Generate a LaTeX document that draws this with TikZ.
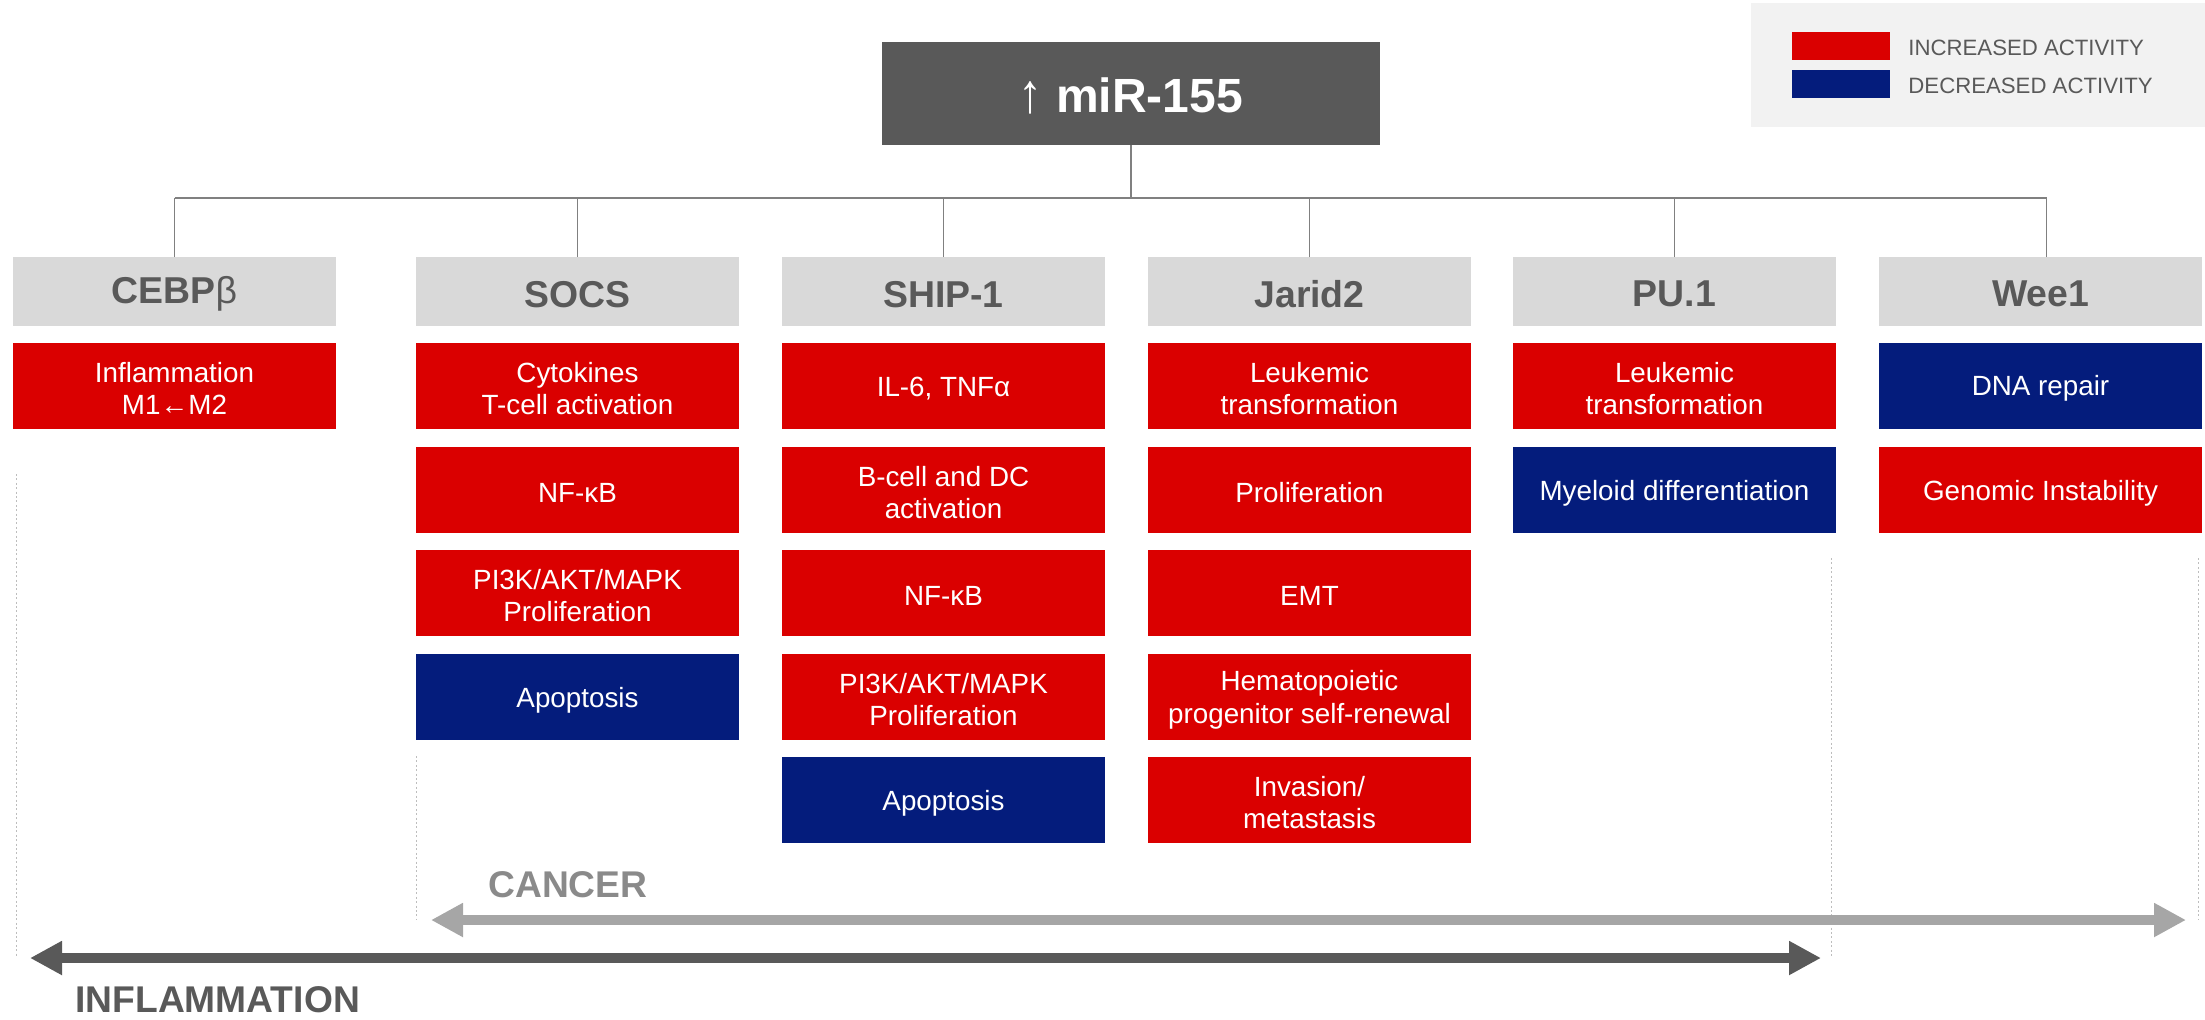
\documentclass[tikz,border=0pt]{standalone}
\usepackage{fontspec}
\setmainfont{Liberation Sans}
\usetikzlibrary{arrows.meta}

\definecolor{incr}{HTML}{DA0000}
\definecolor{decr}{HTML}{041C7C}
\definecolor{hdrgrey}{HTML}{D9D9D9}
\definecolor{darkgrey}{HTML}{595959}
\definecolor{legendbg}{HTML}{F2F2F2}
\definecolor{linkgrey}{HTML}{808080}
\definecolor{lightgrey}{HTML}{A6A6A6}
\definecolor{guidegrey}{HTML}{BDBDBD}
\definecolor{labelgrey}{HTML}{8A8A8A}

% a filled box and its caption, the caption set slightly below the box centre
\newcommand\fxnode[5]{%
  \node[#1] (#2) at (#3) {};
  \node[#4] (#2 text) at ([yshift=-1.4pt]#2.center) {#5};
}

\begin{document}
\begin{tikzpicture}[x=0.5pt,y=-0.5pt,
  effect/.style={minimum width=161.5pt, minimum height=43pt, inner sep=0pt,
    outer sep=0pt},
  up/.style={effect, fill=incr},
  down/.style={effect, fill=decr},
  efftext/.style={inner sep=0pt, text=white, align=center,
    font=\fontsize{13.9}{16.1}\selectfont},
  target/.style={minimum width=161.5pt, minimum height=34.5pt, inner sep=0pt,
    outer sep=0pt, fill=hdrgrey},
  targettext/.style={inner sep=0pt, text=darkgrey,
    font=\fontsize{18.7}{21}\selectfont\bfseries},
  mirbox/.style={fill=darkgrey, minimum width=249pt, minimum height=51.5pt,
    inner sep=0pt, outer sep=0pt},
  mirtext/.style={inner sep=0pt, text=white,
    font=\fontsize{24}{27}\selectfont\bfseries},
  link/.style={draw=linkgrey, line width=0.75pt},
  guide/.style={draw=guidegrey, line width=0.5pt, dash pattern=on 1pt off 1.2pt},
  span/.style={line width=5pt,
    {Triangle[length=16pt,width=16pt]}-{Triangle[length=16pt,width=16pt]}},
  swatch/.style={minimum width=49pt, minimum height=14pt, inner sep=0pt},
  legendtext/.style={anchor=west, text=darkgrey, inner sep=0pt,
    font=\fontsize{11.1}{13}\selectfont},
  spanlabel/.style={anchor=base west, inner sep=0pt,
    font=\fontsize{18.6}{21}\selectfont\bfseries}
]
\useasboundingbox (0,0) rectangle (2205,1019);

% legend
\fill[legendbg] (1751,3) rectangle (2205,127);
\node[swatch, fill=incr] (swup) at (1841,46) {};
\node[swatch, fill=decr] (swdown) at (1841,84) {};
\node[legendtext] (lgup) at (1908,47.5) {INCREASED ACTIVITY};
\node[legendtext] (lgdown) at (1908,85.5) {DECREASED ACTIVITY};

% microRNA
\fxnode{mirbox}{mir}{1131,93.5}{mirtext}{\scalebox{1}[1.15]{↑} miR-155}

% targets
\fxnode{target}{t1}{174.5,291.5}{targettext}{CEBP{\mdseries β}}
\fxnode{target}{t2}{577.5,291.5}{targettext}{SOCS}
\fxnode{target}{t3}{943.5,291.5}{targettext}{SHIP-1}
\fxnode{target}{t4}{1309.5,291.5}{targettext}{Jarid2}
\fxnode{target}{t5}{1674.5,291.5}{targettext}{PU.1}
\fxnode{target}{t6}{2040.5,291.5}{targettext}{Wee1}

% tree connectors
\coordinate (bus) at (1131,198);
\coordinate (t6 drop) at ([xshift=3pt]t6.north);
\draw[link] (mir.south) -- (mir.south |- bus);
\draw[link] (t1.north |- bus) -- (t6 drop |- bus);
\foreach \t in {t1,t2,t3,t4,t5}
  \draw[link] (\t.north) -- (\t.north |- bus);
\draw[link] (t6 drop) -- (t6 drop |- bus);

% CEBPbeta effects
\fxnode{up}{e11}{174.5,386}{efftext}{Inflammation\\M1←M2}

% SOCS effects
\fxnode{up}{e21}{577.5,386}{efftext}{Cytokines\\T-cell activation}
\fxnode{up}{e22}{577.5,490}{efftext}{NF-κB}
\fxnode{up}{e23}{577.5,593}{efftext}{PI3K/AKT/MAPK\\Proliferation}
\fxnode{down}{e24}{577.5,697}{efftext}{Apoptosis}

% SHIP-1 effects
\fxnode{up}{e31}{943.5,386}{efftext}{IL-6, TNFα}
\fxnode{up}{e32}{943.5,490}{efftext}{B-cell and DC\\activation}
\fxnode{up}{e33}{943.5,593}{efftext}{NF-κB}
\fxnode{up}{e34}{943.5,697}{efftext}{PI3K/AKT/MAPK\\Proliferation}
\fxnode{down}{e35}{943.5,800}{efftext}{Apoptosis}

% Jarid2 effects
\fxnode{up}{e41}{1309.5,386}{efftext}{Leukemic\\transformation}
\fxnode{up}{e42}{1309.5,490}{efftext}{Proliferation}
\fxnode{up}{e43}{1309.5,593}{efftext}{EMT}
\fxnode{up}{e44}{1309.5,697}{efftext}{Hematopoietic\\progenitor self-renewal}
\fxnode{up}{e45}{1309.5,800}{efftext}{Invasion/\\metastasis}

% PU.1 effects
\fxnode{up}{e51}{1674.5,386}{efftext}{Leukemic\\transformation}
\fxnode{down}{e52}{1674.5,490}{efftext}{Myeloid differentiation}

% Wee1 effects
\fxnode{down}{e61}{2040.5,386}{efftext}{DNA repair}
\fxnode{up}{e62}{2040.5,490}{efftext}{Genomic Instability}

% extent guides
\draw[guide] (16,474) -- (16,958);
\draw[guide] (416,756) -- (416,920);
\draw[guide] (1831,558) -- (1831,958);
\draw[guide] (2198,558) -- (2198,920);

% disease spans
\coordinate (canL) at (431,920);
\coordinate (canR) at (2186,920);
\coordinate (infL) at (30,958);
\coordinate (infR) at (1821,958);
\draw[span, draw=lightgrey, fill=lightgrey] (canL) -- (canR);
\draw[span, draw=darkgrey, fill=darkgrey] (infL) -- (infR);
\node[spanlabel, text=labelgrey] (cancer) at (488,897) {CANCER};
\node[spanlabel, text=darkgrey] (inflam) at (75,1012) {INFLAMMATION};
\end{tikzpicture}
\end{document}
